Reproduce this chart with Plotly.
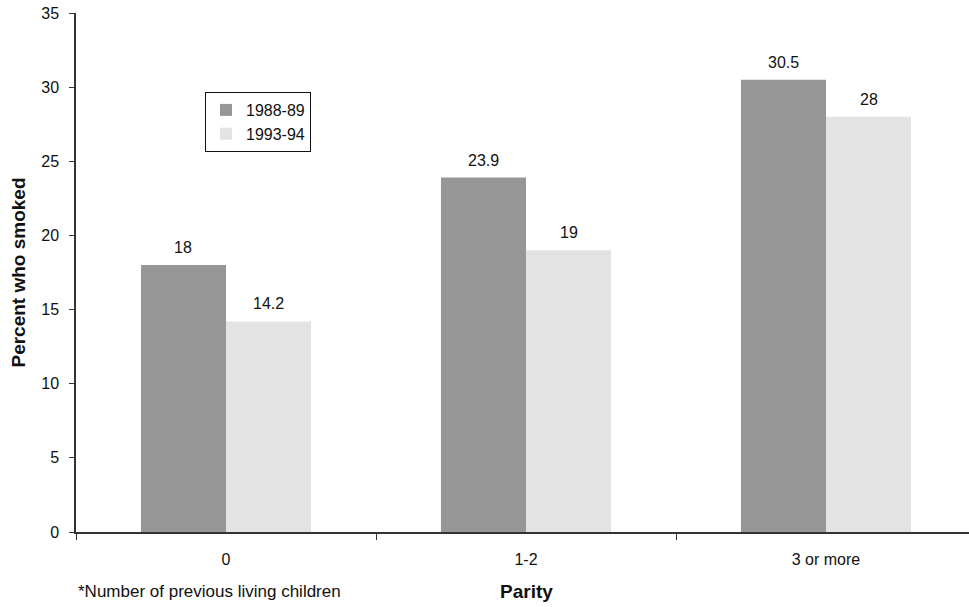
import plotly.graph_objects as go

categories = ["0", "1-2", "3 or more"]
series_names = ["1988-89", "1993-94"]
values_1988 = [18, 23.9, 30.5]
values_1993 = [14.2, 19, 28]
y_ticks = [0, 5, 10, 15, 20, 25, 30, 35]
colors = ["#969696", "#e3e3e3"]

W, H = 969, 607
ML, MR, MT, MB = 76, 0, 13, 75
cat_px = 300
bargap = 0.433
plot_w = W - ML - MR
plot_h = H - MT - MB
xmax = plot_w / cat_px - 0.5

FONT = "Liberation Sans, Arial, sans-serif"

fig = go.Figure()
for i, (name, vals) in enumerate(zip(series_names, [values_1988, values_1993])):
    fig.add_trace(go.Bar(
        x=categories, y=vals, name=name, marker_color=colors[i],
        marker_line_width=0, legendgroup=name,
    ))

half = (1 - bargap) / 4
annotations = []
for i, vals in enumerate([values_1988, values_1993]):
    off = -half if i == 0 else half
    for j, v in enumerate(vals):
        annotations.append(dict(
            x=j + off, y=v, xref="x", yref="y", text=str(v), showarrow=False,
            yanchor="bottom", yshift=7, font=dict(size=16, color="#111", family=FONT),
        ))

foot_y = -59 / plot_h
annotations.append(dict(
    x=1, y=foot_y, xref="x", yref="paper", text="<b>Parity</b>", showarrow=False,
    yanchor="middle", font=dict(size=19, color="#111", family=FONT),
))
annotations.append(dict(
    x=0.0, y=foot_y, xref="paper", yref="paper", text="*Number of previous living children",
    showarrow=False, xanchor="left", yanchor="middle",
    font=dict(size=17, color="#111", family=FONT),
))

boundaries = [k - 0.5 for k in range(len(categories))]

fig.update_layout(
    width=W, height=H,
    margin=dict(l=ML, r=MR, t=MT, b=MB),
    paper_bgcolor="white", plot_bgcolor="white",
    font=dict(family=FONT, size=16, color="#111"),
    barmode="group", bargap=bargap, bargroupgap=0,
    showlegend=True,
    legend=dict(
        x=129 / plot_w, y=440 / plot_h,
        xanchor="left", yanchor="top",
        bordercolor="#111", borderwidth=1, bgcolor="white",
        font=dict(size=16, family=FONT), tracegroupgap=0,
        traceorder="grouped",
    ),
    xaxis=dict(
        type="category", range=[-0.5, xmax], automargin=False,
        showline=True, linecolor="#333", linewidth=1.5,
        ticks="outside", ticklen=6, tickwidth=1.2, tickcolor="#333",
        tickson="boundaries", showgrid=False, zeroline=False,
        tickfont=dict(size=16, family=FONT), ticklabelstandoff=12,
    ),
    xaxis2=dict(
        overlaying="x", anchor="y", range=[-0.5, xmax], automargin=False,
        tickmode="array", tickvals=boundaries,
        ticks="inside", ticklen=6, tickwidth=1.2, tickcolor="#333",
        showticklabels=False, showgrid=False, zeroline=False, showline=False,
    ),
    yaxis=dict(
        range=[0, 35], tickmode="array", tickvals=y_ticks, automargin=False,
        showline=True, linecolor="#333", linewidth=1.5,
        ticks="outside", ticklen=5, tickwidth=1.2, tickcolor="#333",
        showgrid=False, zeroline=False, ticklabeloverflow="allow",
        tickfont=dict(size=16, family=FONT), ticklabelstandoff=7,
        title=dict(text="<b>Percent who smoked</b>", font=dict(size=19, family=FONT), standoff=11),
    ),
    annotations=annotations,
)

fig.write_html("out.html", config={"displayModeBar": False},
               post_script="document.body.style.margin='0';")
